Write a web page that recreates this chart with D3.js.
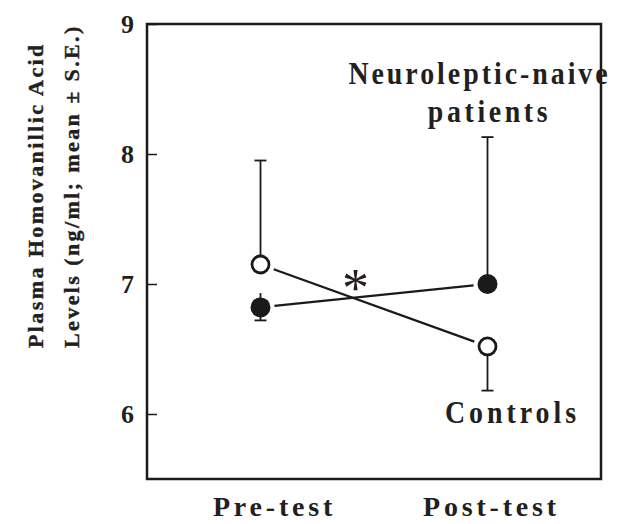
<!DOCTYPE html>
<html>
<head>
<meta charset="utf-8">
<script src="https://cdn.jsdelivr.net/npm/d3@7"></script>
<style>
  body { margin: 0; background: #fff; }
  svg text { font-family: "Liberation Serif", "Times New Roman", serif; fill: #231f20; }
</style>
</head>
<body>
<div class="container"></div>
<script>
// data
const phases = ["Pre-test", "Post-test"];
const controlsMean = [7.15, 6.52];
const controlsHi = [7.95, null];
const controlsLo = [null, 6.18];
const patientsMean = [6.82, 7.00];
const patientsHi = [6.93, 8.13];
const patientsLo = [6.72, null];
const yTicks = [6, 7, 8, 9];

const width = 630, height = 524;
const margin = {top: 24, right: 29, bottom: 45, left: 147};

const svg = d3.select(".container")
    .append("svg")
    .attr("width", width)
    .attr("height", height);

const x = d3.scalePoint()
    .domain(phases)
    .range([margin.left, width - margin.right])
    .padding(0.5);

const y = d3.scaleLinear()
    .domain([5.5, 9])
    .range([height - margin.bottom, margin.top]);

// frame
svg.append("rect")
    .attr("x", margin.left)
    .attr("y", margin.top)
    .attr("width", width - margin.right - margin.left)
    .attr("height", height - margin.bottom - margin.top)
    .attr("fill", "none")
    .attr("stroke", "#1a1a1a")
    .attr("stroke-width", 2.5);

// y axis, ticks pointing inward
const yAxis = d3.axisRight(y).tickValues(yTicks).tickSize(10).tickFormat("");
svg.append("g")
    .attr("transform", `translate(${margin.left},0)`)
    .call(yAxis)
    .call(g => g.select(".domain").remove())
    .call(g => g.selectAll("line").attr("stroke", "#1a1a1a").attr("stroke-width", 1.5));

svg.append("g")
    .selectAll("text")
    .data(yTicks)
    .enter()
    .append("text")
    .attr("x", margin.left - 13)
    .attr("y", d => y(d))
    .attr("dy", "0.34em")
    .attr("text-anchor", "end")
    .attr("font-size", "26px")
    .attr("font-weight", "bold")
    .text(d => d);

// x labels
svg.append("g")
    .selectAll("text")
    .data(phases)
    .enter()
    .append("text")
    .attr("x", d => x(d) + (d === "Pre-test" ? 14 : 4))
    .attr("y", 516)
    .attr("text-anchor", "middle")
    .attr("font-size", "28px")
    .attr("font-weight", "bold")
    .attr("letter-spacing", "3.8px")
    .text(d => d);

// y label, two lines
const yLabel = ["Plasma Homovanillic Acid", "Levels (ng/ml; mean \u00b1 S.E.)"];
svg.append("g")
    .selectAll("text")
    .data(yLabel)
    .enter()
    .append("text")
    .attr("transform", (d, i) => `translate(${43 + i * 36}, 348) rotate(-90)`)
    .attr("font-size", "22px")
    .attr("font-weight", "bold")
    .attr("letter-spacing", "2.4px")
    .attr("stroke", "#231f20")
    .attr("stroke-width", 0.4)
    .text(d => d);

const series = [
    {name: "patients", mean: patientsMean, hi: patientsHi, lo: patientsLo, filled: true},
    {name: "controls", mean: controlsMean, hi: controlsHi, lo: controlsLo, filled: false}
];

// connecting lines, stopped short of the markers
const gap = 14;
series.forEach(s => {
    const x1 = x(phases[0]), y1 = y(s.mean[0]);
    const x2 = x(phases[1]), y2 = y(s.mean[1]);
    const len = Math.hypot(x2 - x1, y2 - y1);
    const ux = (x2 - x1) / len, uy = (y2 - y1) / len;
    svg.append("line")
        .attr("x1", x1 + ux * gap)
        .attr("y1", y1 + uy * gap)
        .attr("x2", x2 - ux * gap)
        .attr("y2", y2 - uy * gap)
        .attr("stroke", "#1a1a1a")
        .attr("stroke-width", 2.2);
});

// error bars; caps only on the outer ends
const capW = 6;
phases.forEach((p, i) => {
    const means = series.map(s => s.mean[i]);
    series.forEach(s => {
        const m = s.mean[i];
        const top = s.hi[i] != null ? s.hi[i] : m;
        const bot = s.lo[i] != null ? s.lo[i] : m;
        svg.append("line")
            .attr("x1", x(p)).attr("x2", x(p))
            .attr("y1", y(top)).attr("y2", y(bot))
            .attr("stroke", "#1a1a1a")
            .attr("stroke-width", 1.8);
        if (s.hi[i] != null && s.hi[i] > d3.max(means)) {
            svg.append("line")
                .attr("x1", x(p) - capW).attr("x2", x(p) + capW)
                .attr("y1", y(s.hi[i])).attr("y2", y(s.hi[i]))
                .attr("stroke", "#1a1a1a").attr("stroke-width", 1.8);
        }
        if (s.lo[i] != null && s.lo[i] < d3.min(means)) {
            svg.append("line")
                .attr("x1", x(p) - capW).attr("x2", x(p) + capW)
                .attr("y1", y(s.lo[i])).attr("y2", y(s.lo[i]))
                .attr("stroke", "#1a1a1a").attr("stroke-width", 1.8);
        }
    });
});

// markers
series.forEach(s => {
    svg.append("g")
        .selectAll("circle")
        .data(s.mean)
        .enter()
        .append("circle")
        .attr("cx", (d, i) => x(phases[i]))
        .attr("cy", d => y(d))
        .attr("r", s.filled ? 10 : 8.5)
        .attr("fill", s.filled ? "#1a1a1a" : "#fff")
        .attr("stroke", "#1a1a1a")
        .attr("stroke-width", s.filled ? 0 : 2.8);
});

// significance star
const starPos = 0.418, starVal = 6.83;
svg.append("text")
    .attr("x", x(phases[0]) + starPos * (x(phases[1]) - x(phases[0])))
    .attr("y", y(starVal))
    .attr("text-anchor", "middle")
    .attr("font-size", "54px")
    .text("*");

// group labels, slightly condensed bold serif
function label(txt, px, val, size, spacing) {
    svg.append("text")
        .attr("transform", `translate(${px},${y(val)}) scale(0.9,1)`)
        .attr("text-anchor", "middle")
        .attr("font-size", size + "px")
        .attr("font-weight", "bold")
        .attr("letter-spacing", spacing + "px")
        .text(txt);
}
label("Neuroleptic-naive", x("Post-test") - 8, 8.54, 31, 3.3);
label("patients", x("Post-test") + 2, 8.25, 31, 4.0);
label("Controls", x("Post-test") + 25, 5.93, 31, 4.4);
</script>
</body>
</html>
